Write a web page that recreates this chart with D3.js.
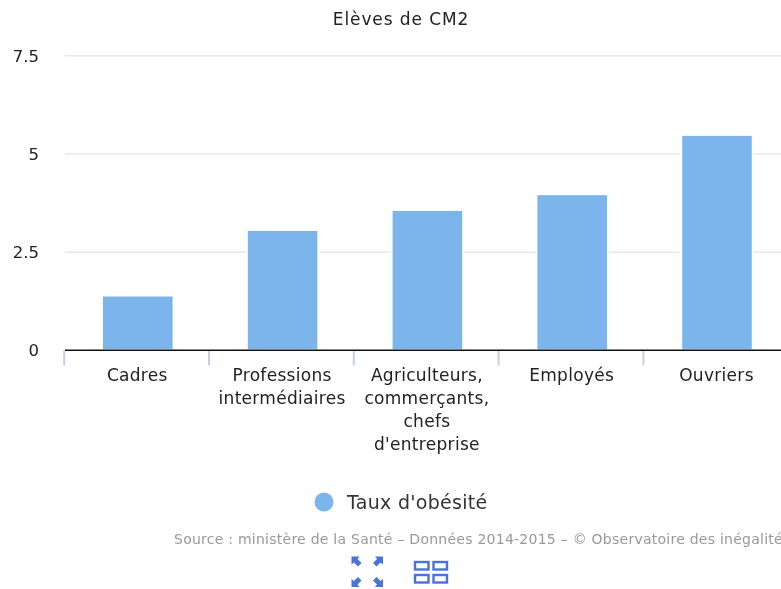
<!DOCTYPE html>
<html lang="fr">
<head>
<meta charset="utf-8">
<title>Elèves de CM2</title>
<script src="https://cdn.jsdelivr.net/npm/d3@7"></script>
<style>
  html, body { margin: 0; padding: 0; background: #fff; overflow: hidden; }
  svg { display: block; font-family: "DejaVu Sans", sans-serif; filter: blur(0.3px); }
</style>
</head>
<body>
<svg id="chart" width="781" height="589"></svg>
<script>
const categories = ["Cadres", "Professions intermédiaires", "Agriculteurs, commerçants, chefs d'entreprise", "Employés", "Ouvriers"];
const categoryLines = [["Cadres"], ["Professions", "intermédiaires"], ["Agriculteurs,", "commerçants,", "chefs", "d'entreprise"], ["Employés"], ["Ouvriers"]];
const values = [1.37, 3.04, 3.55, 3.95, 5.46];
const yTicks = [0, 2.5, 5, 7.5];
const yLabels = ["0", "2.5", "5", "7.5"];

const plot = { left: 65.4, right: 789.4, top: 55.8, bottom: 350.3 };
const svg = d3.select("#chart");

const x = d3.scaleBand().domain(categories).range([plot.left, plot.right]).padding(0);
const y = d3.scaleLinear().domain([0, 7.5]).range([plot.bottom, plot.top]);

// gridlines
svg.append("g")
  .selectAll("line")
  .data(yTicks.filter(d => d > 0))
  .join("line")
  .attr("x1", 65)
  .attr("x2", 781)
  .attr("y1", d => y(d))
  .attr("y2", d => y(d))
  .attr("stroke", "#e8e8e8")
  .attr("stroke-width", 1.5);

// bars, white stroke cuts the gridline around them
const barWidth = 69.6;
svg.append("g")
  .selectAll("rect")
  .data(values)
  .join("rect")
  .attr("x", (d, i) => x(categories[i]) + (x.bandwidth() - barWidth) / 2 - 1)
  .attr("width", barWidth + 2)
  .attr("y", d => y(d) - 1)
  .attr("height", d => y(0) - y(d) + 1)
  .attr("fill", "#7cb5ec")
  .attr("stroke", "#fff")
  .attr("stroke-width", 2);

// y axis
const yAxis = d3.axisLeft(y)
  .tickValues(yTicks)
  .tickSize(0)
  .tickPadding(0)
  .tickFormat((d, i) => yLabels[i]);
svg.append("g")
  .attr("transform", "translate(39,0)")
  .call(yAxis)
  .call(g => g.select(".domain").remove())
  .call(g => g.selectAll("text").attr("font-size", 16.5).attr("fill", "#222").attr("font-family", "DejaVu Sans"));

// x axis: ticks sit just left of the band edges
svg.append("g")
  .selectAll("line")
  .data(categories)
  .join("line")
  .attr("x1", d => x(d) - 1.2)
  .attr("x2", d => x(d) - 1.2)
  .attr("y1", plot.bottom)
  .attr("y2", plot.bottom + 15)
  .attr("stroke", "#c4d0e8")
  .attr("stroke-width", 2);

svg.append("line")
  .attr("x1", 65)
  .attr("x2", 781)
  .attr("y1", y(0))
  .attr("y2", y(0))
  .attr("stroke", "#111")
  .attr("stroke-width", 1.6);

const xLabels = svg.append("g")
  .selectAll("text")
  .data(categoryLines)
  .join("text")
  .attr("text-anchor", "middle")
  .attr("font-size", 17)
  .attr("letter-spacing", 0.3)
  .attr("fill", "#222");
xLabels.each(function (lines, i) {
  d3.select(this).selectAll("tspan")
    .data(lines)
    .join("tspan")
    .attr("x", x(categories[i]) + x.bandwidth() / 2 - 0.5)
    .attr("y", (d, j) => 381 + j * 23)
    .text(d => d);
});

// title
svg.append("text")
  .attr("x", 401)
  .attr("y", 24.5)
  .attr("text-anchor", "middle")
  .attr("font-size", 17)
  .attr("letter-spacing", 0.9)
  .attr("fill", "#222")
  .text("Elèves de CM2");

// legend
svg.append("circle").attr("cx", 324).attr("cy", 502).attr("r", 9.5).attr("fill", "#7cb5ec");
svg.append("text")
  .attr("x", 347)
  .attr("y", 509)
  .attr("font-size", 19)
  .attr("letter-spacing", 0.3)
  .attr("fill", "#333")
  .text("Taux d'obésité");

// source
svg.append("text")
  .attr("x", 174)
  .attr("y", 544)
  .attr("font-size", 14)
  .attr("letter-spacing", 0.25)
  .attr("fill", "#999")
  .text("Source : ministère de la Santé – Données 2014-2015 – © Observatoire des inégalités");

// expand icon
const iconBlue = "#4a72dc";
const arrows = [[351.5, 556.5, 1, 1], [383, 556.5, -1, 1], [351.5, 587, 1, -1], [383, 587, -1, -1]];
svg.append("g")
  .selectAll("path")
  .data(arrows)
  .join("path")
  .attr("d", ([ax, ay, sx, sy]) =>
    `M${ax},${ay}h${sx * 8}l${-sx * 2},${sy * 2.5}l${sx * 4},${sy * 4}l${-sx * 3.5},${sy * 3.5}l${-sx * 4},${-sy * 4}l${-sx * 2.5},${sy * 2}z`)
  .attr("fill", iconBlue);

// grid icon
const cells = [[415, 562], [433.5, 562], [415, 575], [433.5, 575]];
svg.append("g")
  .selectAll("rect")
  .data(cells)
  .join("rect")
  .attr("x", d => d[0])
  .attr("y", d => d[1])
  .attr("width", 13.5)
  .attr("height", 7.5)
  .attr("fill", "none")
  .attr("stroke", iconBlue)
  .attr("stroke-width", 2.4);
</script>
</body>
</html>
